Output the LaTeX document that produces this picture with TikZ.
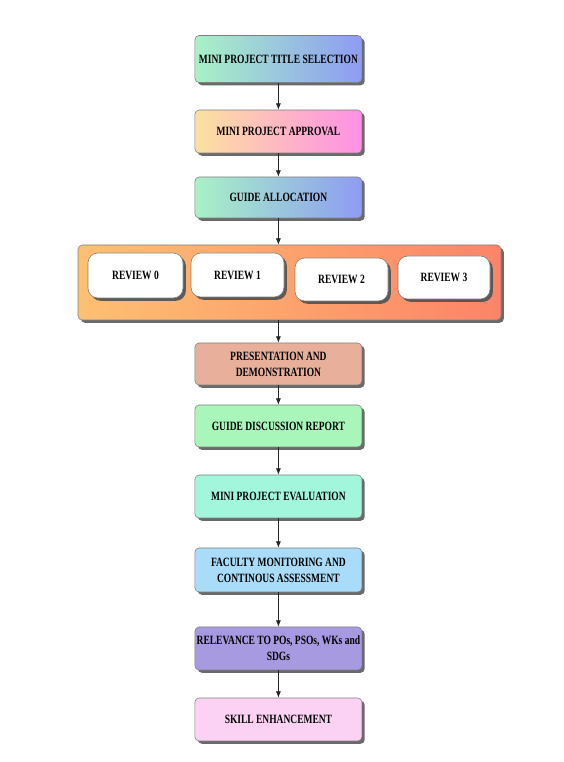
\documentclass[tikz,border=0pt]{standalone}
\usepackage{fontspec}
\newfontfamily\boxfont[FakeStretch=0.75]{Liberation Serif}
\usepackage{tikz}
\usetikzlibrary{arrows.meta,shadows}
\definecolor{Menta}{HTML}{A8F2C6}
\definecolor{Lila}{HTML}{8E9CF2}
\definecolor{Crema}{HTML}{FCE1A0}
\definecolor{Rosa}{HTML}{FF90E6}
\definecolor{Naranja}{HTML}{FDC072}
\definecolor{Coral}{HTML}{FC8468}
\definecolor{Salmon}{HTML}{E8B09A}
\definecolor{VerdeClaro}{HTML}{A8F6BA}
\definecolor{Aguamarina}{HTML}{A2F6DC}
\definecolor{Celeste}{HTML}{A8DCF8}
\definecolor{Morado}{HTML}{A89AE0}
\definecolor{RosaClaro}{HTML}{FCD2F4}
\definecolor{Borde}{HTML}{808080}
\definecolor{Sombra}{HTML}{505050}

\begin{document}
\begin{tikzpicture}[
  >=Latex,
  every node/.style={font=\boxfont\bfseries\fontsize{9}{11.4}\selectfont},
  flow/.style={-{Latex[length=1.6mm,width=1.3mm]},semithick,draw=black!85},
  stage/.style={rectangle,rounded corners=3pt,draw=Borde,align=center,
    minimum width=4.175cm,minimum height=1.075cm,inner sep=1pt,
    drop shadow={shadow xshift=2pt,shadow yshift=-2pt,fill=Sombra,opacity=0.85}},
  review/.style={rectangle,rounded corners=7pt,draw=Borde,fill=white,
    minimum width=2.325cm,minimum height=1.1cm,
    drop shadow={shadow xshift=2pt,shadow yshift=-2pt,fill=Sombra,opacity=0.9}}
]
  \useasboundingbox (0,0) rectangle (14.075,19.05);

  % Etapas iniciales.
  \node[stage,minimum height=1.175cm,left color=Menta,right color=Lila]
    (titulo) at (6.96,17.575) {MINI PROJECT TITLE SELECTION};
  \node[stage,left color=Crema,right color=Rosa]
    (aprobacion) at (6.96,15.7625) {MINI PROJECT APPROVAL};
  \node[stage,minimum height=1.025cm,left color=Menta,right color=Lila]
    (guia) at (6.96,14.1125) {GUIDE ALLOCATION};

  % Bloque de revisiones.
  \node[rectangle,rounded corners=3pt,draw=Borde,
    minimum width=10.575cm,minimum height=1.875cm,
    left color=Naranja,right color=Coral,
    drop shadow={shadow xshift=2pt,shadow yshift=-2pt,fill=Sombra,opacity=0.85}]
    (revisiones) at (7.2375,11.9875) {};
  \node[review,minimum width=2.375cm,minimum height=1.125cm] (r0) at (3.3875,12.1625) {REVIEW 0};
  \node[review] (r1) at (5.9375,12.175) {REVIEW 1};
  \node[review,minimum height=1.075cm] (r2) at (8.5375,12.0625) {REVIEW 2};
  \node[review,minimum width=2.3cm,minimum height=1.075cm] (r3) at (11.1,12.1125) {REVIEW 3};

  % Etapas finales.
  \node[stage,minimum height=1.05cm,fill=Salmon]
    (presentacion) at (6.96,9.95) {PRESENTATION AND\\DEMONSTRATION};
  \node[stage,minimum height=1.05cm,fill=VerdeClaro]
    (informe) at (6.96,8.4) {GUIDE DISCUSSION REPORT};
  \node[stage,fill=Aguamarina]
    (evaluacion) at (6.96,6.6375) {MINI PROJECT EVALUATION};
  \node[stage,minimum height=1.1cm,fill=Celeste]
    (seguimiento) at (6.96,4.8) {FACULTY MONITORING AND\\CONTINOUS ASSESSMENT};
  \node[stage,fill=Morado]
    (relevancia) at (6.96,2.8375) {RELEVANCE TO POs, PSOs, WKs and\\SDGs};
  \node[stage,fill=RosaClaro]
    (habilidades) at (6.96,1.0625) {SKILL ENHANCEMENT};

  % Flechas entre etapas.
  \draw[flow] (titulo) -- (aprobacion);
  \draw[flow] (aprobacion) -- (guia);
  \draw[flow] (guia.south) -- (guia.south |- revisiones.north);
  \draw[flow] (presentacion.north |- revisiones.south) -- (presentacion.north);
  \draw[flow] (presentacion) -- (informe);
  \draw[flow] (informe) -- (evaluacion);
  \draw[flow] (evaluacion) -- (seguimiento);
  \draw[flow] (seguimiento) -- (relevancia);
  \draw[flow] (relevancia) -- (habilidades);
\end{tikzpicture}
\end{document}
